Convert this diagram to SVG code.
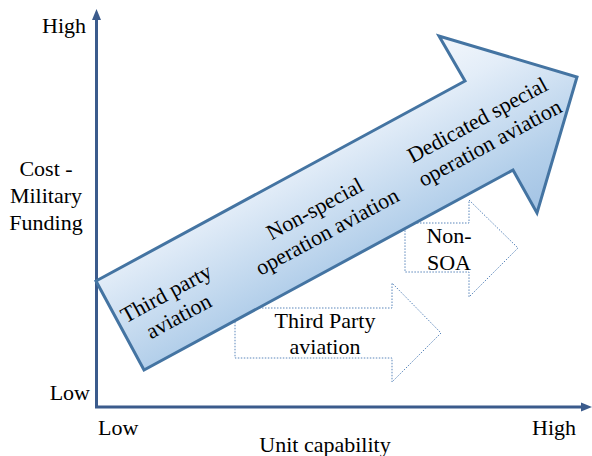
<svg xmlns="http://www.w3.org/2000/svg" width="592" height="456" viewBox="0 0 592 456">
  <style>
    text { font-family: 'Liberation Serif', 'Times New Roman', 'DejaVu Serif', serif; font-size: 22px; fill: #000; }
    .axis { stroke: #3b5b8c; stroke-width: 3; fill: none; }
    .head { fill: #3b5b8c; }
    .dot { fill: #fff; stroke: #5a86bb; stroke-width: 1; stroke-dasharray: 1.5 1.5; }
    .big { fill: url(#g); stroke: #4474a2; stroke-width: 3; stroke-linejoin: miter; }
  </style>
  <defs>
    <linearGradient id="g" gradientUnits="userSpaceOnUse" x1="439" y1="36" x2="535" y2="214">
      <stop offset="0" stop-color="#f3f7fc"/>
      <stop offset="0.25" stop-color="#e3edf8"/>
      <stop offset="0.75" stop-color="#b3cfea"/>
      <stop offset="1" stop-color="#a3c3e4"/>
    </linearGradient>
  </defs>

  <g id="axes">
    <line class="axis" x1="96.5" y1="408" x2="96.5" y2="18"/>
    <polygon class="head" points="96.5,9 92,20 101,20"/>
    <line class="axis" x1="95" y1="407" x2="583" y2="407"/>
    <polygon class="head" points="592,407 581,402.5 581,411.5"/>
  </g>

  <g id="axis-labels" font-family="Liberation Serif, serif">
    <text x="86" y="33" text-anchor="end">High</text>
    <text x="46" text-anchor="middle"><tspan x="46" y="176">Cost -</tspan><tspan x="46" y="203">Military</tspan><tspan x="46" y="229.5">Funding</tspan></text>
    <text x="90" y="400" text-anchor="end">Low</text>
    <text x="98" y="435">Low</text>
    <text x="576" y="435" text-anchor="end">High</text>
    <text x="325" y="452" text-anchor="middle">Unit capability</text>
  </g>

  <g id="third-party-arrow">
    <polygon class="dot" points="235,308 392,308 392,283 441,333 392,382 392,358 235,358"/>
    <text text-anchor="middle"><tspan x="325" y="328">Third Party</tspan><tspan x="325" y="354">aviation</tspan></text>
  </g>

  <g id="non-soa-arrow">
    <polygon class="dot" points="405,223 469,223 469,200 518,248 469,297 469,272 405,272"/>
    <text text-anchor="middle"><tspan x="449" y="243">Non-</tspan><tspan x="449" y="270">SOA</tspan></text>
  </g>

  <g id="main-arrow">
    <polygon class="big" points="96,281 465,81 439,36 577,77 537,213 513,170 144,370"/>
    <text text-anchor="middle" transform="translate(172.5,305) rotate(-28.5)"><tspan x="0" y="-6">Third party</tspan><tspan x="0" y="20">aviation</tspan></text>
    <text text-anchor="middle" transform="translate(321,220.5) rotate(-28.5)"><tspan x="0" y="-6">Non-special</tspan><tspan x="0" y="20">operation aviation</tspan></text>
    <text text-anchor="middle" transform="translate(483.7,131.7) rotate(-28.5)"><tspan x="0" y="-6">Dedicated special</tspan><tspan x="0" y="20">operation aviation</tspan></text>
  </g>
</svg>
